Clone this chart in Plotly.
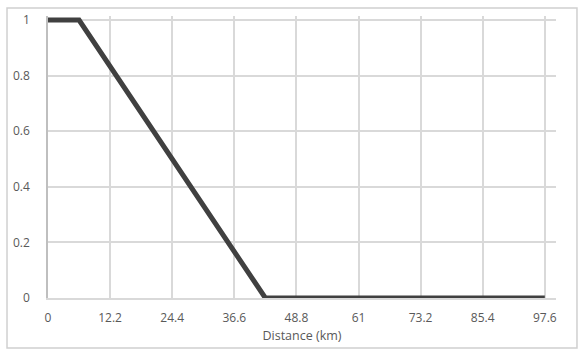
import plotly.graph_objects as go

distance_km = [0, 6.1, 42.7, 97.6]
value = [1, 1, 0, 0]
x_ticks = [0, 12.2, 24.4, 36.6, 48.8, 61, 73.2, 85.4, 97.6]
x_tick_labels = ["0", "12.2", "24.4", "36.6", "48.8", "61", "73.2", "85.4", "97.6"]
y_ticks = [0, 0.2, 0.4, 0.6, 0.8, 1]
y_tick_labels = ["0", "0.2", "0.4", "0.6", "0.8", "1"]

font_family = "Open Sans, Liberation Sans, sans-serif"
text_color = "#595959"

fig = go.Figure()
fig.add_trace(go.Scatter(
    x=distance_km, y=value, mode="lines",
    line=dict(color="#404040", width=5),
    cliponaxis=False, showlegend=False, hoverinfo="skip",
))

fig.update_layout(
    width=584, height=358,
    margin=dict(l=48, r=28, t=16, b=60, autoexpand=False),
    paper_bgcolor="white", plot_bgcolor="white",
    font=dict(family=font_family, size=12, color=text_color),
    xaxis=dict(
        range=[0, 99.8], tickvals=x_ticks, ticktext=x_tick_labels,
        showgrid=True, gridcolor="#d9d9d9", gridwidth=1.5,
        zeroline=False, showline=True, linecolor="#d9d9d9", linewidth=1.5,
        ticks="outside", ticklen=8, tickcolor="rgba(0,0,0,0)",
        title=dict(text="Distance (km)", font=dict(size=12.5, color=text_color), standoff=6),
        tickfont=dict(size=12, color=text_color),
        automargin=False,
    ),
    yaxis=dict(
        range=[0, 1.0144], tickvals=y_ticks, ticktext=y_tick_labels,
        showgrid=True, gridcolor="#d9d9d9", gridwidth=1.5,
        zeroline=False, showline=True, linecolor="#bfbfbf", linewidth=1.5,
        ticks="outside", ticklen=14, tickcolor="rgba(0,0,0,0)",
        tickfont=dict(size=12, color=text_color),
        automargin=False,
    ),
    shapes=[dict(
        type="rect", xref="paper", yref="paper",
        x0=-0.0807, x1=1.0413, y0=-0.1773, y1=1.0284,
        line=dict(color="#d0d0d0", width=1.5), fillcolor="rgba(0,0,0,0)",
        layer="below",
    )],
)

fig.write_html("out.html", config={"displayModeBar": False},
               post_script="document.body.style.margin='0';")
